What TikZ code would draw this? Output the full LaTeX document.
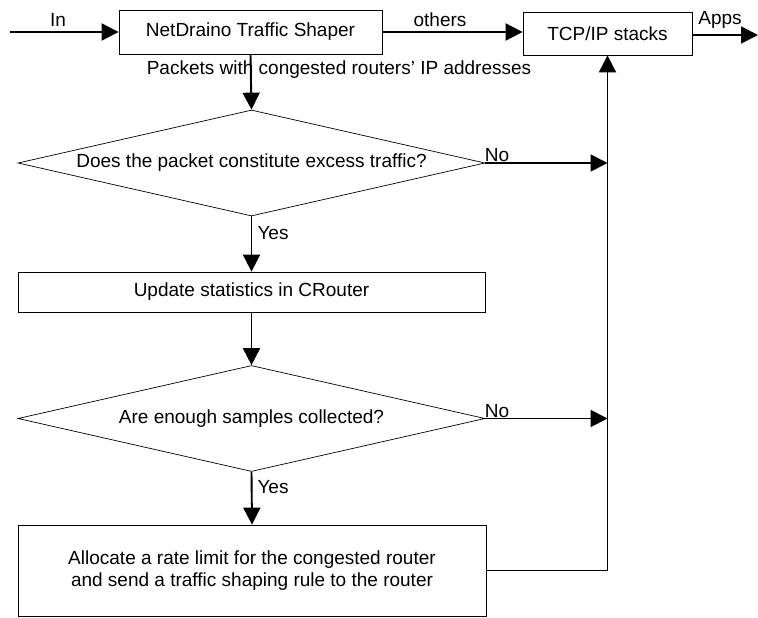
\documentclass[tikz,border=0pt]{standalone}
\usepackage{fontspec}
\setmainfont{Liberation Sans}
\usetikzlibrary{arrows.meta,shapes.geometric}
\tikzset{
  box/.style={draw, line width=0.8pt, rectangle, inner sep=0pt, align=center},
  decision/.style={draw, line width=0.7pt, diamond, inner sep=0pt, shape aspect=4.4,
                   minimum width=467pt, minimum height=106pt},
  flow/.style={line width=1.9pt, -{Triangle[length=17pt,width=17pt]}},
  lbl/.style={inner sep=0pt},
}
\begin{document}
\begin{tikzpicture}[x=1pt,y=-1pt,font=\fontsize{19}{24}\selectfont]
\useasboundingbox (0,0) rectangle (758,618);

% boxes
\node[box, minimum width=263pt, minimum height=44pt] (shaper) at (250.5,32) {NetDraino Traffic Shaper};
\node[box, minimum width=169pt, minimum height=43pt] (tcp) at (607.5,33.5) {TCP/IP stacks};
\node[decision] (d1) at (251.5,163) {Does the packet constitute excess traffic?};
\node[box, minimum width=467pt, minimum height=40pt] (upd) at (251.5,292) {Update statistics in CRouter};
\node[decision] (d2) at (251.5,418.5) {Are enough samples collected?};
\node[box, minimum width=468pt, minimum height=91pt] (alloc) at (252,570.5)
  {Allocate a rate limit for the congested router\\[-2pt]and send a traffic shaping rule to the router};

% free ends
\coordinate (inS) at (10,32);
\coordinate (appsE) at (758,35);

% connectors
\draw[flow] (inS) -- (shaper.west);
\draw[flow] (shaper.east) -- (shaper.east -| tcp.west);
\draw[flow] (tcp.east |- appsE) -- (appsE);
\draw[flow] (shaper.south) -- (d1.north);
\draw[flow] (d1.south) -- (upd.north);
\draw[flow] (upd.south) -- (d2.north);
\draw[flow] (d2.south) -- (alloc.north);
\draw[flow] (d1.east) -- (d1.east -| tcp.south);
\draw[flow] (d2.east) -- (d2.east -| tcp.south);
\draw[flow] (alloc.east) -| (tcp.south);

% labels
\node[lbl] (lin) at (58,20) {In};
\node[lbl] (lothers) at (440,20) {others};
\node[lbl] (lapps) at (720,20) {Apps};
\node[lbl] (lpk) at (339,70) {Packets with congested routers' IP addresses};
\node[lbl] (lno1) at (497,155) {No};
\node[lbl] (lyes1) at (273,233) {Yes};
\node[lbl] (lno2) at (497,411) {No};
\node[lbl] (lyes2) at (273,487) {Yes};
\end{tikzpicture}
\end{document}
